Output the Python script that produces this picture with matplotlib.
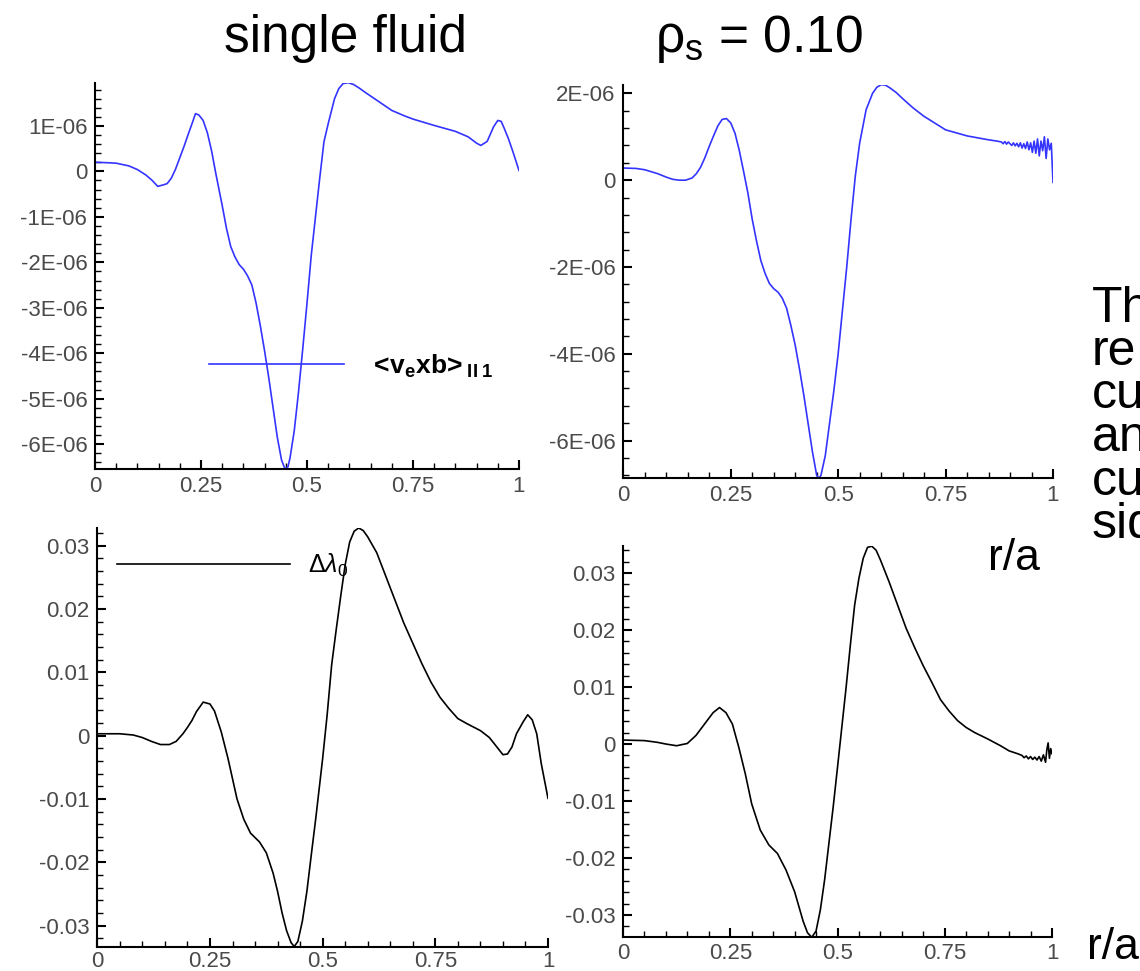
import matplotlib
matplotlib.use("Agg")
import matplotlib.pyplot as plt
from matplotlib.ticker import MultipleLocator, FuncFormatter

plt.rcParams["font.family"] = ["Liberation Sans", "DejaVu Sans"]
plt.rcParams["mathtext.fontset"] = "custom"
plt.rcParams["mathtext.rm"] = "Liberation Sans"
plt.rcParams["mathtext.it"] = "Liberation Sans:italic"
plt.rcParams["mathtext.bf"] = "Liberation Sans:bold"

# ---------------- data ----------------
# top-left: single fluid, <v_e x b>_||1  (units of 1E-06)
r_sf_top = [0, 0.03, 0.05, 0.08, 0.1, 0.12, 0.135, 0.148, 0.16, 0.17, 0.18, 0.19, 0.2, 0.21,
            0.22, 0.23, 0.237, 0.245, 0.255, 0.265, 0.275, 0.285, 0.3, 0.31, 0.32, 0.33, 0.34,
            0.35, 0.36, 0.37, 0.38, 0.39, 0.4, 0.41, 0.42, 0.43, 0.44, 0.448, 0.455, 0.46, 0.47,
            0.48, 0.49, 0.5, 0.51, 0.52, 0.53, 0.54, 0.55, 0.565, 0.575, 0.585, 0.597, 0.61,
            0.625, 0.64, 0.67, 0.7, 0.73, 0.75, 0.8, 0.85, 0.88, 0.9, 0.91, 0.925, 0.94, 0.95,
            0.958, 0.965, 0.975, 0.985, 1.0]
vxb_sf = [0.20, 0.19, 0.18, 0.12, 0.04, -0.08, -0.2, -0.33, -0.3, -0.27, -0.15, 0.05, 0.3, 0.55,
          0.82, 1.08, 1.27, 1.24, 1.12, 0.85, 0.45, -0.05, -0.75, -1.25, -1.65, -1.88, -2.05,
          -2.15, -2.3, -2.5, -2.9, -3.4, -3.95, -4.55, -5.2, -5.85, -6.35, -6.54, -6.5, -6.3, -5.7,
          -4.85, -3.9, -2.9, -1.85, -1.0, -0.15, 0.65, 1.05, 1.6, 1.82, 1.93, 1.95, 1.91,
          1.82, 1.72, 1.53, 1.34, 1.22, 1.15, 1.01, 0.88, 0.76, 0.62, 0.57, 0.66, 0.98, 1.12,
          1.1, 0.95, 0.72, 0.45, 0.02]

# top-right: rho_s = 0.10, <v_e x b>_||1  (units of 1E-06)
r_rho_top = [0, 0.03, 0.05, 0.08, 0.1, 0.115, 0.13, 0.145, 0.16, 0.17, 0.18, 0.19, 0.2, 0.21,
             0.22, 0.23, 0.24, 0.25, 0.26, 0.27, 0.28, 0.29, 0.3, 0.31, 0.32, 0.33, 0.34, 0.35,
             0.36, 0.37, 0.38, 0.39, 0.4, 0.41, 0.42, 0.43, 0.44, 0.45, 0.455, 0.46, 0.47, 0.48,
             0.49, 0.5, 0.51, 0.52, 0.53, 0.54, 0.55, 0.565, 0.58, 0.59, 0.6, 0.61, 0.62, 0.635,
             0.65, 0.675, 0.7, 0.75, 0.8, 0.85, 0.87, 0.88,
             0.884, 0.888, 0.892, 0.896,
             0.900, 0.904, 0.908, 0.912, 0.916, 0.920, 0.924, 0.928, 0.932, 0.936, 0.940, 0.944,
             0.948, 0.952, 0.956, 0.960, 0.964, 0.968, 0.972, 0.976, 0.980, 0.984, 0.988, 0.992,
             0.996, 1.000]
vxb_rho = [0.28, 0.27, 0.24, 0.15, 0.07, 0.02, 0.0, 0.0, 0.05, 0.15, 0.3, 0.52, 0.78, 1.02,
           1.25, 1.40, 1.42, 1.32, 1.08, 0.68, 0.2, -0.3, -0.9, -1.4, -1.85, -2.15, -2.38, -2.5,
           -2.58, -2.72, -2.95, -3.35, -3.8, -4.35, -4.95, -5.6, -6.25, -6.8, -6.87, -6.8, -6.35,
           -5.6, -4.85, -4.0, -3.0, -2.0, -0.9, 0.1, 0.85, 1.62, 2.0, 2.14, 2.2, 2.19, 2.13,
           2.02, 1.88, 1.66, 1.47, 1.16, 1.02, 0.93, 0.90, 0.88,
           0.84, 0.89, 0.83, 0.88,
           0.84, 0.80, 0.86, 0.79, 0.85, 0.77, 0.86, 0.74, 0.84, 0.73, 0.88, 0.70,
           0.86, 0.64, 0.90, 0.62, 0.95, 0.56, 0.90, 0.68, 1.00, 0.50, 0.95, 0.70,
           0.85, -0.05]

# bottom-left: single fluid, delta lambda_0  (units of 1E-03)
r_sf_bot = [0, 0.05, 0.08, 0.1, 0.12, 0.14, 0.16, 0.175, 0.19, 0.2, 0.21, 0.22, 0.235, 0.25,
            0.26, 0.275, 0.29, 0.3, 0.31, 0.325, 0.34, 0.36, 0.375, 0.39, 0.4, 0.41, 0.42, 0.43,
            0.437, 0.445, 0.455, 0.465, 0.475, 0.485, 0.5, 0.51, 0.52, 0.53, 0.54, 0.55, 0.56,
            0.57, 0.58, 0.59, 0.6, 0.62, 0.64, 0.66, 0.68, 0.7, 0.72, 0.74, 0.76, 0.78, 0.8,
            0.82, 0.85, 0.87, 0.89, 0.9, 0.91, 0.92, 0.93, 0.945, 0.955, 0.965, 0.975, 0.985, 1.0]
dlam_sf = [0.3, 0.3, 0.1, -0.3, -0.9, -1.4, -1.4, -0.9, 0.3, 1.3, 2.4, 3.8, 5.3, 5.0,
           3.9, 0.6, -3.6, -6.8, -10.0, -13.2, -15.4, -16.8, -18.5, -21.7, -24.6, -28.0, -30.8,
           -32.7, -33.3, -32.5, -29.3, -24.6, -18.7, -12.9, -3.6, 3.3, 11.2, 16.7, 22.0, 27.0,
           30.6, 32.3, 32.8, 32.4, 31.4, 28.9, 25.2, 21.5, 17.8, 14.6, 11.4, 8.5, 6.1, 4.3, 2.7,
           1.9, 0.8, -0.3, -2.1, -3.0, -2.9, -1.8, 0.3, 2.2, 3.3, 2.5, 0.3, -4.4, -9.9]

# bottom-right: rho_s = 0.10, delta lambda_0  (units of 1E-03)
r_rho_bot = [0, 0.05, 0.08, 0.1, 0.125, 0.15, 0.17, 0.19, 0.21, 0.225, 0.24, 0.255, 0.27, 0.285,
             0.3, 0.32, 0.34, 0.36, 0.38, 0.4, 0.41, 0.42, 0.43, 0.44, 0.45, 0.46, 0.47, 0.48,
             0.49, 0.5, 0.51, 0.52, 0.53, 0.54, 0.55, 0.56, 0.57, 0.58, 0.59, 0.6, 0.62, 0.64,
             0.66, 0.68, 0.7, 0.72, 0.74, 0.76, 0.78, 0.8, 0.82, 0.85, 0.88, 0.9, 0.92,
             0.930, 0.935, 0.940, 0.945, 0.950, 0.955, 0.960, 0.965, 0.970, 0.975, 0.980, 0.985,
             0.988, 0.991, 0.994, 0.997, 1.000]
dlam_rho = [0.7, 0.6, 0.3, 0.0, -0.3, 0.1, 1.5, 3.5, 5.5, 6.4, 5.5, 3.5, -0.6, -5.2,
            -10.5, -15.1, -17.7, -19.2, -22.1, -25.9, -28.5, -31.1, -33.1, -33.9, -32.8, -29.1,
            -23.8, -17.4, -11.0, -4.1, 2.9, 9.9, 17.4, 24.4, 29.1, 32.6, 34.5, 34.7, 34.0, 32.3,
            28.5, 24.4, 20.3, 16.9, 13.7, 10.8, 7.8, 5.8, 4.1, 2.9, 2.0, 0.9, -0.3, -1.2, -1.7,
            -2.0, -2.4, -2.1, -2.6, -2.2, -2.7, -2.3, -2.8, -2.2, -3.0, -1.9, -3.2,
            -1.0, 0.2, -2.5, -0.8, -1.7]

top_ylim_sf = (-6.545, 1.95)
top_ylim_rho = (-6.87, 2.2)
bot_ylim_sf = (-33.3, 32.8)
bot_ylim_rho = (-33.9, 34.7)

x_ticks = [0, 0.25, 0.5, 0.75, 1]

side_text = ["Th", "re", "cu", "an", "cu", "sid"]

# ---------------- figure ----------------
W, H = 1140, 971
fig = plt.figure(figsize=(W / 100, H / 100), dpi=100)

BLUE = "#3434ff"
TICKCOL = "#4a4a4a"


def make_axes(left, right, top, bottom):
    return fig.add_axes([left / W, 1 - bottom / H, (right - left) / W, (bottom - top) / H])


def sci_fmt(v, pos):
    if abs(v) < 1e-12:
        return "0"
    return f"{v:.0E}"


def dec_fmt(v, pos):
    if abs(v) < 1e-9:
        return "0"
    return f"{v:.2f}"


def x_fmt(v, pos):
    return f"{v:g}"


def style(ax, ylim, ymajor, yminor, yfmt, xpad=5):
    ax.set_xlim(0, 1)
    ax.set_ylim(*ylim)
    for s in ("top", "right"):
        ax.spines[s].set_visible(False)
    for s in ("left", "bottom"):
        ax.spines[s].set_linewidth(1.5)
        ax.spines[s].set_color("black")
    ax.xaxis.set_major_locator(plt.FixedLocator(x_ticks))
    ax.xaxis.set_minor_locator(MultipleLocator(0.05))
    ax.xaxis.set_major_formatter(FuncFormatter(x_fmt))
    ax.yaxis.set_major_locator(MultipleLocator(ymajor))
    ax.yaxis.set_minor_locator(MultipleLocator(yminor))
    ax.yaxis.set_major_formatter(FuncFormatter(yfmt))
    ax.tick_params(which="major", direction="in", length=6.7, width=1.5,
                   labelsize=16, labelcolor=TICKCOL, color="black")
    ax.tick_params(which="minor", direction="in", length=4.3, width=1.0, color="black")
    ax.tick_params(axis="y", which="major", pad=5.5)
    ax.tick_params(axis="x", which="major", pad=xpad)
    ax.set_facecolor("none")


# top-left
ax1 = make_axes(95, 519, 82.7, 469)
ax1.plot(r_sf_top, [v * 1e-6 for v in vxb_sf], color=BLUE, lw=1.2,
         label=r"$\mathbf{<\!v_{e}xb\!>_{II\;1}}$")
style(ax1, (top_ylim_sf[0] * 1e-6, top_ylim_sf[1] * 1e-6), 1e-6, 0.2e-6, sci_fmt)
ax1.legend(loc="center left", bbox_to_anchor=(209 / W, 1 - 366 / H),
           bbox_transform=fig.transFigure, frameon=False, borderpad=0, borderaxespad=0,
           handlelength=5.1, handletextpad=0.95, fontsize=19)

# top-right
ax2 = make_axes(623.3, 1053, 84.7, 478.3)
ax2.plot(r_rho_top, [v * 1e-6 for v in vxb_rho], color=BLUE, lw=1.2)
style(ax2, (top_ylim_rho[0] * 1e-6, top_ylim_rho[1] * 1e-6), 2e-6, 0.4e-6, sci_fmt)

# bottom-left
ax3 = make_axes(97.3, 548, 528, 946.5)
ax3.plot(r_sf_bot, [v * 1e-3 for v in dlam_sf], color="black", lw=1.2,
         label=r"$\Delta\lambda_0$")
style(ax3, (bot_ylim_sf[0] * 1e-3, bot_ylim_sf[1] * 1e-3), 0.01, 0.002, dec_fmt, xpad=3)
ax3.legend(loc="center left", bbox_to_anchor=(117 / W, 1 - 565 / H),
           bbox_transform=fig.transFigure, frameon=False, borderpad=0, borderaxespad=0,
           handlelength=6.9, handletextpad=0.75, fontsize=18)

# bottom-right
ax4 = make_axes(623, 1052, 546.2, 937.3)
ax4.plot(r_rho_bot, [v * 1e-3 for v in dlam_rho], color="black", lw=1.2)
style(ax4, (bot_ylim_rho[0] * 1e-3, bot_ylim_rho[1] * 1e-3), 0.01, 0.002, dec_fmt, xpad=4)

# titles
fig.text(346 / W, 1 - 52 / H, "single fluid", ha="center", va="baseline", fontsize=37)
fig.text(655 / W, 1 - 52 / H, r"ρ$_\mathrm{s}$ = 0.10", ha="left", va="baseline", fontsize=37)

# axis captions
fig.text(988 / W, 1 - 570 / H, "r/a", ha="left", va="baseline", fontsize=32)
fig.text(1087 / W, 1 - 959 / H, "r/a", ha="left", va="baseline", fontsize=32)

# side text (cut off by the slide edge in the original); baseline = last line
fig.text(1092 / W, 1 - 538 / H, "\n".join(side_text), ha="left", va="baseline",
         fontsize=36, linespacing=0.925)

fig.savefig("out.png", dpi=100)
